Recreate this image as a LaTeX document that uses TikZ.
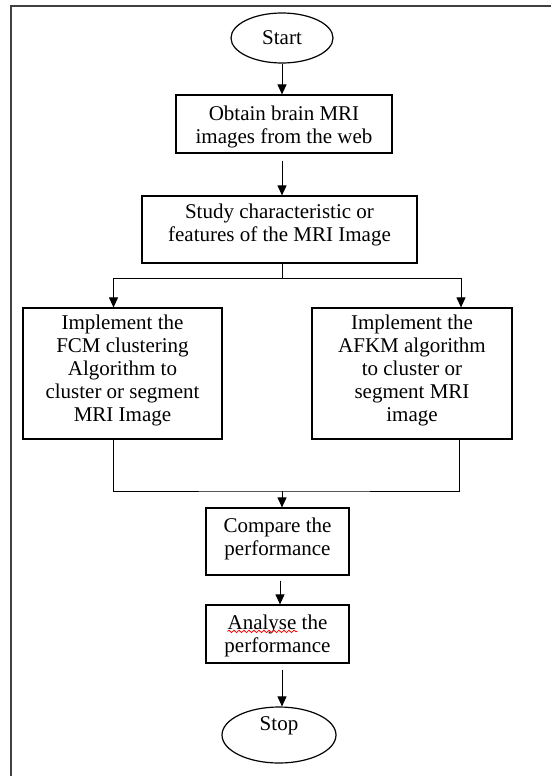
\documentclass[tikz,border=0pt]{standalone}
\usepackage{fontspec}
\setmainfont{Liberation Serif}
\usetikzlibrary{arrows.meta,decorations.pathmorphing,shapes.geometric}

\newcommand{\boxtext}[4]{\parbox[c][#2][t]{#1}{\centering\rule{0pt}{#3}#4}}

\begin{document}
\begin{tikzpicture}[x=0.5pt,y=-0.5pt,
        >={Triangle[width=4.5pt,length=5pt]},
        proc/.style={draw,rectangle,inner sep=0pt,line width=0.6pt,font=\fontsize{10.5}{11.5}\selectfont},
        term/.style={draw,ellipse,inner sep=0pt,line width=0.6pt,font=\fontsize{10.5}{11.5}\selectfont},
        flow/.style={line width=0.5pt}]
        \clip (0,0) rectangle (551,776);
        \draw[line width=0.9pt,black!75] (11,800) -- (11,6) -- (560,6);
        \node[term,minimum width=51pt,minimum height=25pt] (start) at (282,38) {Start};
        \node[proc] (obtain) at (284,124) {\boxtext{108pt}{29pt}{12.5pt}{Obtain brain MRI\\images from the web}};
        \node[proc] (study) at (279.5,229.5) {\boxtext{137.5pt}{33.5pt}{11pt}{Study characteristic or\\features of the MRI Image}};
        \node[proc] (fcm) at (122.5,373.5) {\boxtext{99.5pt}{65.5pt}{10.5pt}{Implement the\\FCM clustering\\Algorithm to\\cluster or segment\\MRI Image}};
        \node[proc] (afkm) at (412,373.5) {\boxtext{100pt}{65.5pt}{10.5pt}{Implement the\\AFKM algorithm\\to cluster or\\segment MRI\\image}};
        \node[proc] (compare) at (277.5,541.5) {\boxtext{71.5pt}{33.5pt}{12pt}{Compare the\\performance}};
        \node[proc] (analyse) at (277.5,634) {\boxtext{71.5pt}{29pt}{12pt}{Analyse the\\performance}};
        \node[term,minimum width=57pt,minimum height=28pt,text height=7pt,text depth=12pt] (stop) at (279,735) {Stop};
        \draw[flow,->] (start.south) -- (start.south |- obtain.north);
        \draw[flow,->,shorten <=3.5pt] (obtain.south -| start.south) -- (study.north -| start.south);
        \draw[flow] (study.south -| start.south) -- ++(0,15) coordinate (fork);
        \draw[flow,->] (fork) -| ([xshift=-4.5pt]fcm.north);
        \draw[flow,->] (fork) -| ([xshift=24.5pt]afkm.north);
        \coordinate (join) at (282,491);
        \draw[flow] ([xshift=-4.5pt]fcm.south) |- (join) -| ([xshift=23.5pt]afkm.south);
        \draw[flow,->] (join) -- (join |- compare.north);
        \draw[flow,->,shorten <=2.5pt] (compare.south -| 280,0) -- (analyse.north -| 280,0);
        \draw[flow,->,shorten <=3pt] (analyse.south -| start.south) -- (stop.north -| start.south);
        \draw[red,line width=0.4pt,decorate,decoration={snake,amplitude=0.6pt,segment length=2.5pt}] ([shift={(11pt,-13.5pt)}]analyse.north west) -- ++(70,0);
    \end{tikzpicture}
\end{document}
